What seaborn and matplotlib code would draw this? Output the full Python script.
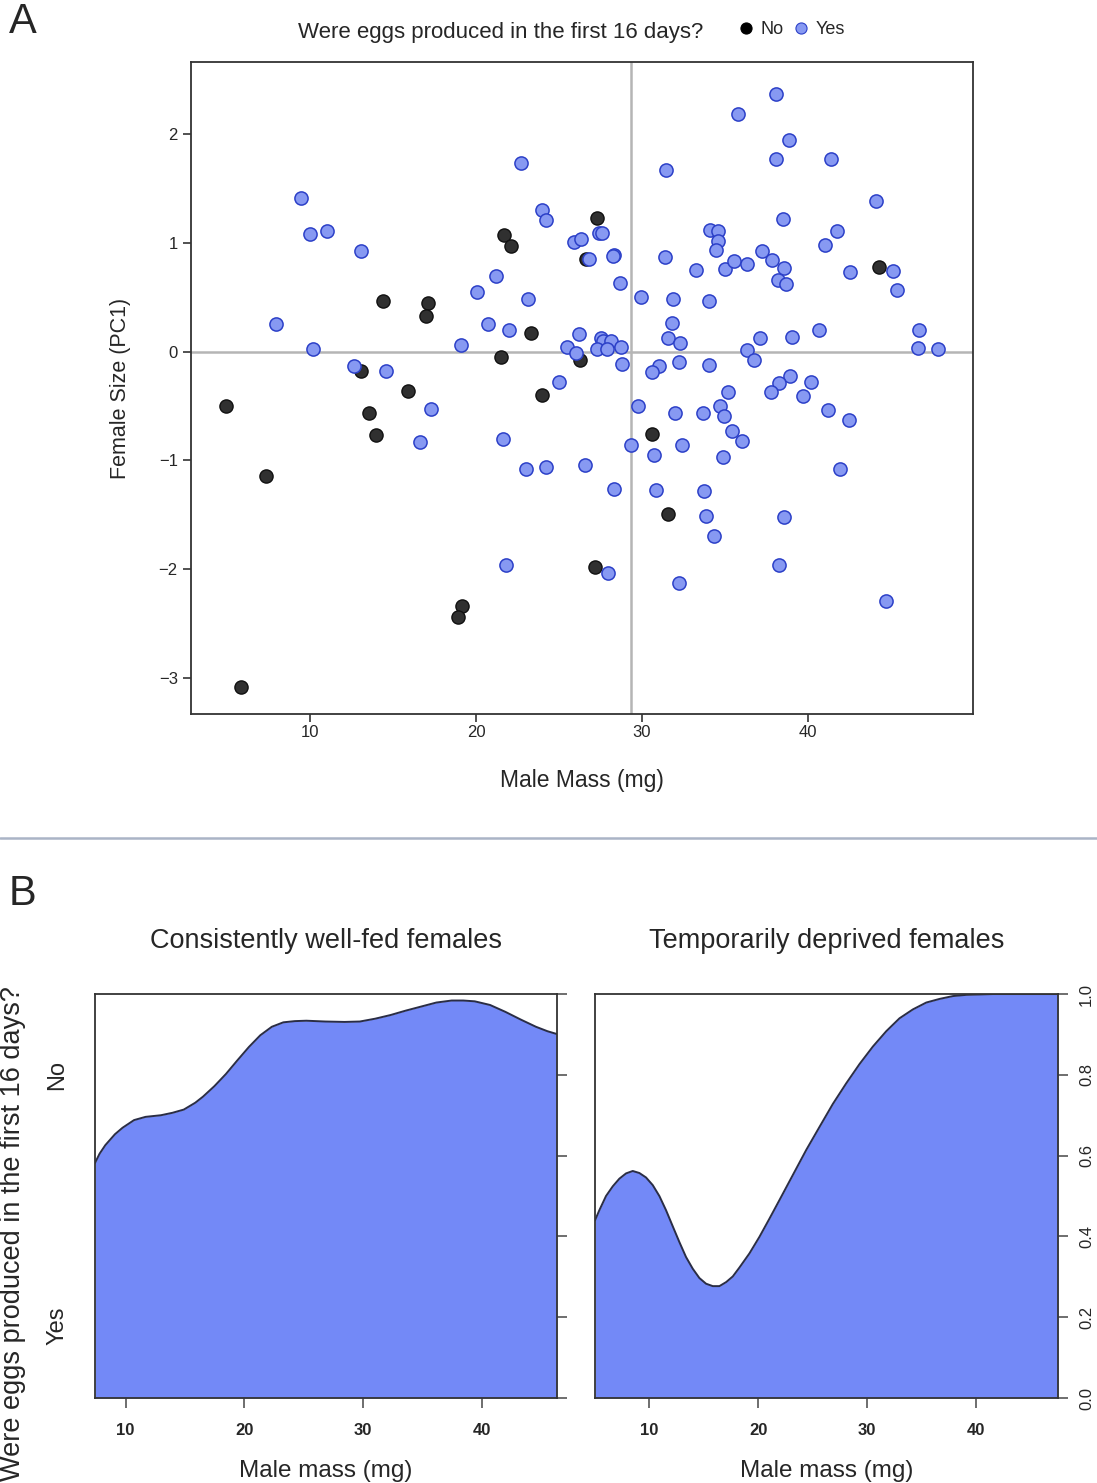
import matplotlib
matplotlib.use("Agg")
import matplotlib.pyplot as plt
import seaborn as sns
import pandas as pd
from matplotlib.lines import Line2D

# Panel A: male mass (mg) vs female size (PC1), split by egg production
no_mass = [4.92, 5.84, 7.35, 13.05, 13.54, 13.96, 14.38, 15.92, 17.13, 16.97,
           19.14, 18.92, 21.49, 21.70, 22.13, 23.31, 23.99, 26.25, 26.61, 27.31,
           27.15, 30.62, 31.57, 44.30]
no_size = [-0.50, -3.08, -1.14, -0.18, -0.56, -0.77, 0.46, -0.36, 0.45, 0.33,
           -2.34, -2.44, -0.05, 1.07, 0.97, 0.17, -0.40, -0.08, 0.85, 1.23,
           -1.98, -0.76, -1.49, 0.78]

yes_mass = [9.44, 10.00, 11.02, 7.95, 10.18, 13.09, 12.65, 14.60, 17.27, 16.64,
            19.11, 20.04, 21.22, 20.72, 22.01, 23.11, 21.61, 22.71, 23.99, 24.23,
            22.99, 24.22, 24.98, 25.50, 26.02, 25.89, 26.33, 26.22, 26.79, 27.42,
            27.61, 26.57, 21.79, 27.93, 28.31, 28.31, 28.27, 28.69, 27.51, 27.67,
            28.11, 28.72, 27.31, 27.91, 28.81, 29.34, 29.78, 29.96, 31.45, 31.40,
            31.87, 31.81, 31.58, 32.29, 31.04, 30.60, 32.21, 32.01, 30.70, 32.43,
            30.83, 32.21, 33.27, 34.12, 34.60, 34.56, 34.46, 34.02, 34.04, 33.69,
            33.72, 33.86, 34.34, 34.70, 34.92, 35.16, 35.42, 36.02, 34.90, 34.98,
            35.56, 36.34, 35.80, 37.25, 37.81, 38.57, 38.17, 38.67, 38.07, 38.86,
            38.07, 38.51, 37.11, 39.04, 36.34, 36.73, 38.93, 38.23, 37.79, 39.70,
            40.18, 41.20, 42.49, 41.95, 38.57, 38.27, 40.64, 41.39, 41.73, 41.02,
            42.51, 44.11, 45.14, 45.34, 46.71, 46.64, 47.83, 44.70]
yes_size = [1.41, 1.08, 1.11, 0.25, 0.02, 0.92, -0.13, -0.18, -0.53, -0.83,
            0.06, 0.55, 0.69, 0.25, 0.20, 0.48, -0.80, 1.73, 1.30, 1.21,
            -1.08, -1.06, -0.28, 0.04, -0.01, 1.01, 1.03, 0.16, 0.85, 1.09,
            1.09, -1.04, -1.96, -2.03, -1.26, 0.89, 0.88, 0.63, 0.12, 0.10,
            0.10, 0.04, 0.02, 0.02, -0.11, -0.86, -0.50, 0.50, 1.67, 0.87,
            0.48, 0.26, 0.12, 0.08, -0.13, -0.19, -0.10, -0.56, -0.95, -0.86,
            -1.27, -2.13, 0.75, 1.12, 1.11, 1.02, 0.93, 0.46, -0.12, -0.56,
            -1.28, -1.51, -1.69, -0.50, -0.59, -0.37, -0.73, -0.82, -0.97, 0.76,
            0.83, 0.80, 2.18, 0.92, 0.84, 0.77, 0.66, 0.62, 2.37, 1.94,
            1.77, 1.22, 0.12, 0.13, 0.01, -0.08, -0.22, -0.29, -0.37, -0.41,
            -0.28, -0.54, -0.63, -1.08, -1.52, -1.96, 0.20, 1.77, 1.11, 0.98,
            0.73, 1.38, 0.74, 0.57, 0.20, 0.03, 0.02, -2.29]

# Panel B: conditional density P(eggs = Yes | male mass)
fed_mass = [7.42, 7.81, 8.29, 9.10, 9.74, 10.71, 11.68, 12.97, 13.94, 14.90,
            15.87, 16.52, 17.48, 18.45, 19.42, 20.39, 21.35, 22.32, 23.29, 24.26,
            25.23, 26.84, 28.45, 29.74, 31.03, 32.32, 33.61, 34.90, 36.19, 37.48,
            38.45, 39.42, 40.71, 42.00, 43.29, 44.58, 45.55, 46.35]
fed_yes = [0.582, 0.605, 0.626, 0.653, 0.669, 0.688, 0.696, 0.700, 0.706, 0.714,
           0.731, 0.746, 0.772, 0.802, 0.836, 0.869, 0.898, 0.919, 0.930, 0.933,
           0.934, 0.932, 0.931, 0.932, 0.939, 0.948, 0.959, 0.969, 0.979, 0.984,
           0.984, 0.982, 0.973, 0.956, 0.937, 0.919, 0.908, 0.901]
dep_mass = [5.00, 5.40, 6.01, 6.63, 7.24, 7.85, 8.47, 9.08, 9.69, 10.31,
            10.92, 11.53, 12.15, 12.76, 13.37, 13.99, 14.60, 15.21, 15.83, 16.44,
            17.06, 17.67, 18.28, 19.20, 20.12, 21.04, 21.96, 23.19, 24.42, 25.64,
            26.87, 28.10, 29.33, 30.55, 31.78, 33.00, 34.23, 35.46, 36.69, 37.91,
            39.14, 40.37, 41.60, 47.58]
dep_yes = [0.440, 0.465, 0.500, 0.524, 0.543, 0.556, 0.562, 0.557, 0.546, 0.527,
           0.500, 0.465, 0.425, 0.386, 0.349, 0.320, 0.297, 0.283, 0.277, 0.277,
           0.287, 0.301, 0.323, 0.358, 0.399, 0.444, 0.490, 0.552, 0.614, 0.671,
           0.728, 0.779, 0.827, 0.870, 0.908, 0.940, 0.962, 0.979, 0.988, 0.995,
           0.998, 0.999, 1.0, 1.0]

sns.set_theme(style="white")
plt.rcParams["font.family"] = ["Liberation Sans", "DejaVu Sans"]
plt.rcParams["axes.edgecolor"] = "#333333"
plt.rcParams["axes.linewidth"] = 1.3

fig = plt.figure(figsize=(10.97, 14.83), dpi=100)

# ---- panel A ----
ax = fig.add_axes([0.1741, 0.5185, 0.7129, 0.4397])
ax.axvline(29.34, color="#b5b5b5", lw=1.8, zorder=0)
ax.axhline(0, color="#b5b5b5", lw=1.8, zorder=0)
sns.scatterplot(x=no_mass, y=no_size, ax=ax, s=90, color="#303030",
                edgecolor="#111111", linewidth=1.0, zorder=3)
sns.scatterplot(x=yes_mass, y=yes_size, ax=ax, s=90, color="#8799f2",
                edgecolor="#2c40c8", linewidth=1.1, zorder=3)
ax.set_xlim(2.83, 49.94)
ax.set_ylim(-3.33, 2.66)
ax.set_xticks([10, 20, 30, 40])
ax.set_yticks([-3, -2, -1, 0, 1, 2])
ax.tick_params(axis="both", direction="out", length=6, width=1.2,
               color="#333333", labelsize=12, bottom=True, left=True)
ax.tick_params(axis="x", pad=2)
ax.set_xlabel("Male Mass (mg)", fontsize=16.5, labelpad=21)
ax.set_ylabel("Female Size (PC1)", fontsize=15.5, labelpad=20)

fig.text(0.456, 0.978, "Were eggs produced in the first 16 days?",
         ha="center", va="center", fontsize=16)
handles = [Line2D([], [], ls="", marker="o", ms=8, mfc="black", mec="black", mew=0.8),
           Line2D([], [], ls="", marker="o", ms=8, mfc="#8799f2", mec="#2c40c8", mew=0.8)]
fig.legend(handles, ["No", "Yes"], loc="center left", bbox_to_anchor=(0.664, 0.980),
           ncol=2, frameon=False, fontsize=13, handletextpad=0.3,
           columnspacing=0.45, handlelength=1.0, borderpad=0)

fig.text(0.008, 0.985, "A", fontsize=30, ha="left", va="center")
fig.text(0.008, 0.397, "B", fontsize=30, ha="left", va="center")
fig.add_artist(Line2D([0, 1], [0.4349, 0.4349], color="#aab4c6", lw=1.8))

# ---- panel B ----
panels = [
    ([0.0866, 0.0573, 0.4211, 0.2724], fed_mass, fed_yes,
     "Consistently well-fed females"),
    ([0.5424, 0.0573, 0.4221, 0.2724], dep_mass, dep_yes,
     "Temporarily deprived females"),
]
for i, (pos, xm, yv, title) in enumerate(panels):
    bx = fig.add_axes(pos)
    bx.fill_between(xm, 0, yv, color="#7389f7", lw=0, zorder=1)
    sns.lineplot(x=xm, y=yv, ax=bx, color="#2a2d45", lw=1.4, zorder=2)
    bx.set_xlim(xm[0], xm[-1])
    bx.set_ylim(0, 1)
    bx.set_xticks([10, 20, 30, 40])
    bx.tick_params(axis="x", direction="out", length=7, width=1.2,
                   color="#555555", labelsize=12, bottom=True, pad=11)
    for lab in bx.get_xticklabels():
        lab.set_fontweight("bold")
    bx.yaxis.tick_right()
    bx.set_yticks([0, 0.2, 0.4, 0.6, 0.8, 1.0])
    bx.tick_params(axis="y", direction="out", length=7, width=1.2,
                   color="#555555", right=True, left=False, labelsize=12, pad=8)
    if i == 0:
        bx.set_yticklabels([])
        bx.text(-0.082, 0.80, "No", transform=bx.transAxes, rotation=90,
                ha="center", va="center", fontsize=17)
        bx.text(-0.082, 0.18, "Yes", transform=bx.transAxes, rotation=90,
                ha="center", va="center", fontsize=17)
    else:
        bx.set_yticklabels(["0.0", "0.2", "0.4", "0.6", "0.8", "1.0"],
                           rotation=90, va="center")
    bx.set_title(title, fontsize=19.5, pad=33)
    bx.set_xlabel("Male mass (mg)", fontsize=17.5, labelpad=16)
    bx.set_ylabel("")

fig.text(0.012, 0.168, "Were eggs produced in the first 16 days?", rotation=90,
         ha="center", va="center", fontsize=19.5)

fig.savefig("out.png", dpi=100)
